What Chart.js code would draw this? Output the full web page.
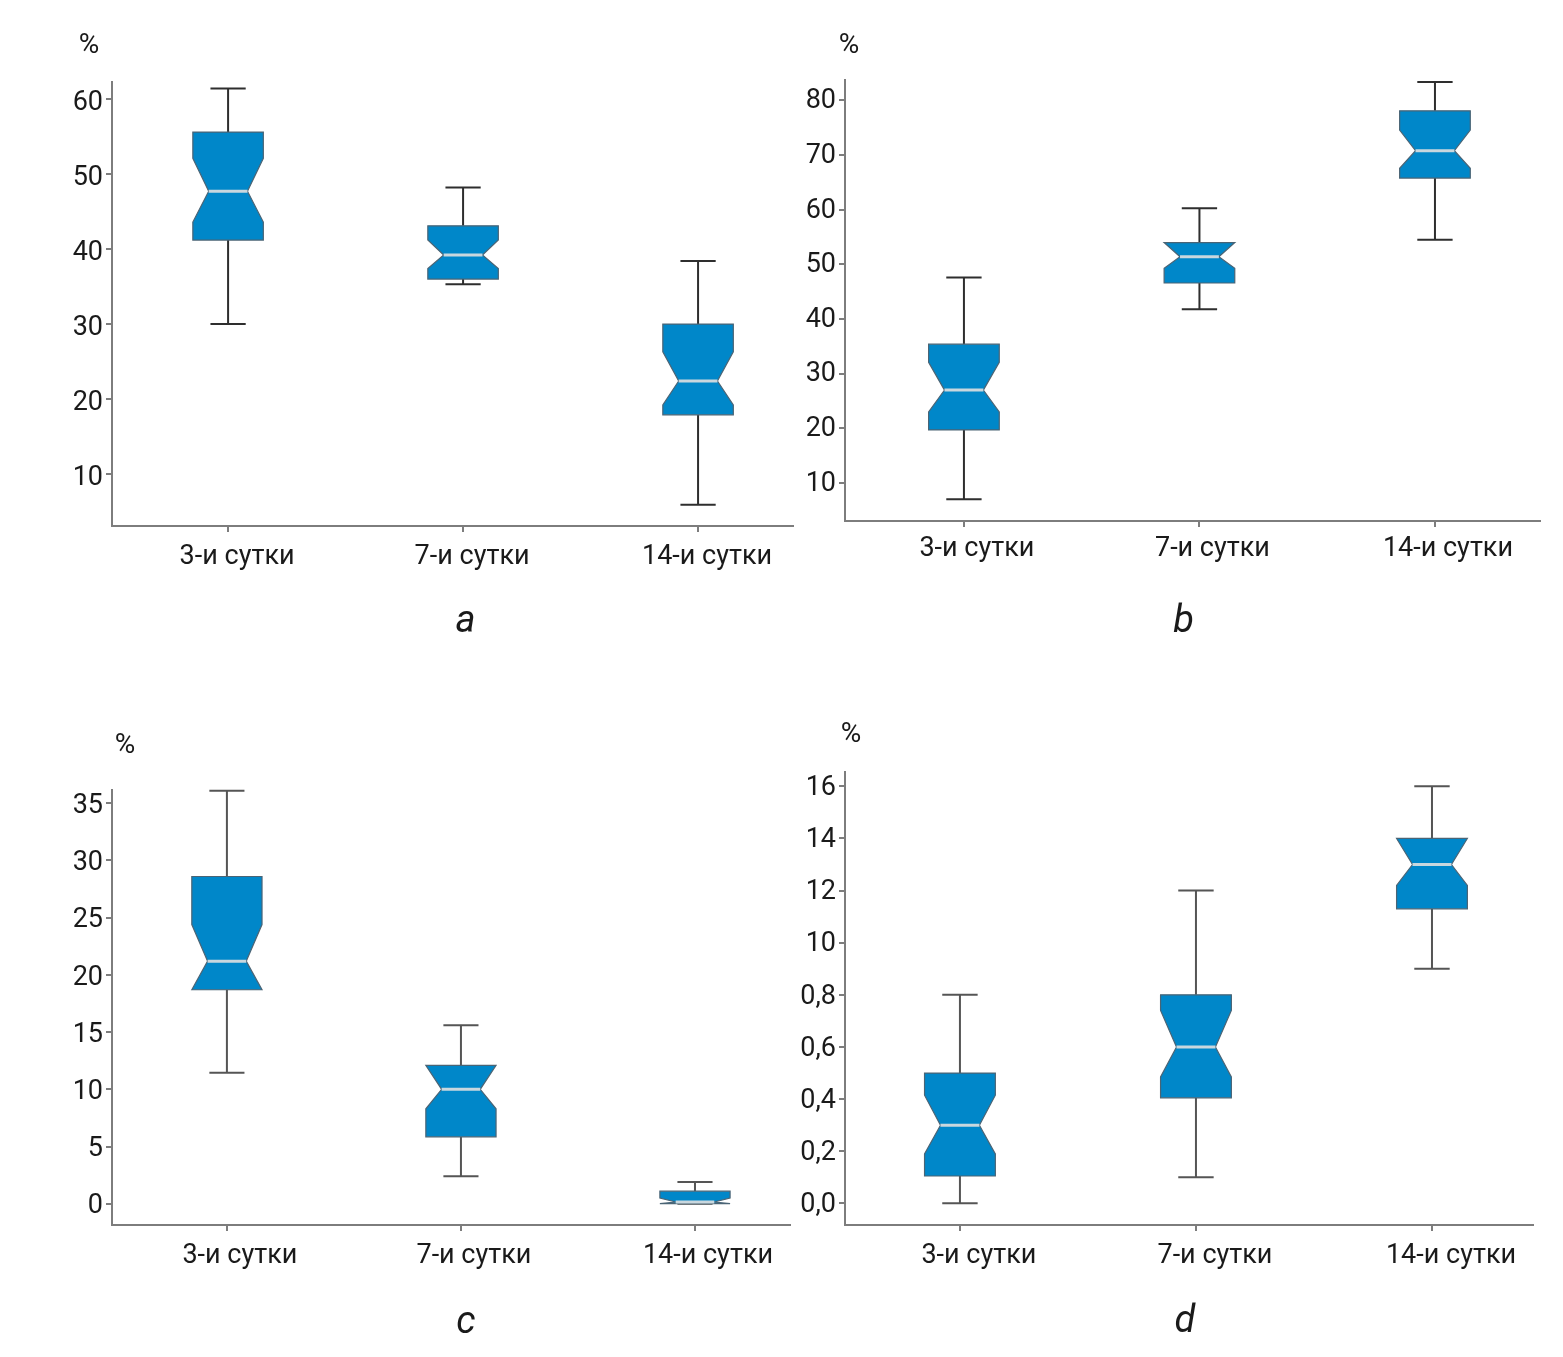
<!DOCTYPE html>
<html>
<head>
<meta charset="utf-8">
<script src="https://cdn.jsdelivr.net/npm/chart.js@4.4.1/dist/chart.umd.min.js"></script>
<style>
  body { margin: 0; background: #fff; width: 1563px; height: 1357px; position: relative; overflow: hidden; }
  .panel { position: absolute; }
</style>
</head>
<body>
<div class="panel" id="pa"><canvas id="ca"></canvas></div>
<div class="panel" id="pb"><canvas id="cb"></canvas></div>
<div class="panel" id="pc"><canvas id="cc"></canvas></div>
<div class="panel" id="pd"><canvas id="cd"></canvas></div>
<script>
// categories shared by all four panels
const categories = ["3-и сутки", "7-и сутки", "14-и сутки"];

// panel a
const aMin     = [30.0, 35.3, 5.9];
const aQ1      = [41.2, 36.0, 17.9];
const aMedian  = [47.7, 39.2, 22.4];
const aQ3      = [55.6, 43.1, 30.0];
const aMax     = [61.4, 48.2, 38.4];
const aNotchLo = [43.6, 37.4, 19.2];
const aNotchHi = [52.1, 41.2, 26.3];
const aTicks = [10, 20, 30, 40, 50, 60];
const aTickLabels = ["10", "20", "30", "40", "50", "60"];

// panel b
const bMin     = [7.0, 41.8, 54.5];
const bQ1      = [19.7, 46.6, 65.8];
const bMedian  = [27.0, 51.4, 70.8];
const bQ3      = [35.4, 54.0, 78.1];
const bMax     = [47.6, 60.3, 83.4];
const bNotchLo = [23.0, 49.3, 67.6];
const bNotchHi = [32.1, 54.0, 74.6];
const bTicks = [10, 20, 30, 40, 50, 60, 70, 80];
const bTickLabels = ["10", "20", "30", "40", "50", "60", "70", "80"];

// panel c
const cMin     = [11.45, 2.4, 0.0];
const cQ1      = [18.7, 5.85, 0.0];
const cMedian  = [21.2, 10.0, 0.15];
const cQ3      = [28.6, 12.1, 1.1];
const cMax     = [36.1, 15.6, 1.9];
const cNotchLo = [18.7, 8.3, 0.0];
const cNotchHi = [24.4, 12.1, 0.5];
const cTicks = [0, 5, 10, 15, 20, 25, 30, 35];
const cTickLabels = ["0", "5", "10", "15", "20", "25", "30", "35"];

// panel d (tick labels as printed in the source)
const dMin     = [0.0, 0.1, 0.9];
const dQ1      = [0.105, 0.405, 1.13];
const dMedian  = [0.30, 0.60, 1.30];
const dQ3      = [0.50, 0.80, 1.40];
const dMax     = [0.80, 1.20, 1.60];
const dNotchLo = [0.19, 0.485, 1.22];
const dNotchHi = [0.415, 0.74, 1.40];
const dTicks = [0, 0.2, 0.4, 0.6, 0.8, 1.0, 1.2, 1.4, 1.6];
const dTickLabels = ["0,0", "0,2", "0,4", "0,6", "0,8", "10", "12", "14", "16"];

const FONT = "Roboto, 'Noto Sans', sans-serif";
const BOX_W = 0.30;   // box width in category units
const WAIST = 0.55;   // notch waist relative to box width
const Y_AXIS_W = 110, TOP_PAD = 60, X_AXIS_H = 140, RIGHT_PAD = 30;

const notchBox = {
  id: 'notchBox',
  afterDatasetsDraw(chart, args, opts) {
    const { ctx, scales: { x, y } } = chart;
    const ds = chart.data.datasets[0];
    ds.data.forEach((p, i) => {
      const cx = x.getPixelForValue(p.x);
      const hw = (x.getPixelForValue(p.x + BOX_W / 2) - x.getPixelForValue(p.x - BOX_W / 2)) / 2;
      const wx = hw * WAIST;
      const yMin = y.getPixelForValue(ds.min[i]);
      const yMax = y.getPixelForValue(ds.max[i]);
      const yQ1 = y.getPixelForValue(ds.q1[i]);
      const yQ3 = y.getPixelForValue(ds.q3[i]);
      const yMed = y.getPixelForValue(p.y);
      const yLo = y.getPixelForValue(ds.notchLo[i]);
      const yHi = y.getPixelForValue(ds.notchHi[i]);

      ctx.save();
      // whiskers and caps
      ctx.strokeStyle = opts.whisker;
      ctx.lineWidth = 2;
      ctx.beginPath();
      ctx.moveTo(cx, yQ3); ctx.lineTo(cx, yMax);
      ctx.moveTo(cx - hw / 2, yMax); ctx.lineTo(cx + hw / 2, yMax);
      ctx.moveTo(cx, yQ1); ctx.lineTo(cx, yMin);
      ctx.moveTo(cx - hw / 2, yMin); ctx.lineTo(cx + hw / 2, yMin);
      ctx.stroke();

      // notched box
      ctx.beginPath();
      ctx.moveTo(cx - hw, yQ1);
      ctx.lineTo(cx - hw, yLo);
      ctx.lineTo(cx - wx, yMed);
      ctx.lineTo(cx - hw, yHi);
      ctx.lineTo(cx - hw, yQ3);
      ctx.lineTo(cx + hw, yQ3);
      ctx.lineTo(cx + hw, yHi);
      ctx.lineTo(cx + wx, yMed);
      ctx.lineTo(cx + hw, yLo);
      ctx.lineTo(cx + hw, yQ1);
      ctx.closePath();
      ctx.fillStyle = '#0087c9';
      ctx.fill();
      ctx.strokeStyle = '#4a6475';
      ctx.lineWidth = 1.2;
      ctx.stroke();

      // median
      ctx.strokeStyle = '#c9d7de';
      ctx.lineWidth = 3;
      ctx.beginPath();
      ctx.moveTo(cx - wx, yMed); ctx.lineTo(cx + wx, yMed);
      ctx.stroke();
      ctx.restore();
    });

    // unit label and panel letter
    const a = chart.chartArea;
    ctx.save();
    ctx.fillStyle = '#1a1a1a';
    ctx.textAlign = 'center';
    ctx.textBaseline = 'middle';
    ctx.font = "28px " + FONT;
    ctx.fillText('%', a.left + opts.pctDx, a.top + opts.pctDy);
    ctx.font = "italic 38px " + FONT;
    ctx.fillText(opts.letter, (a.left + a.right) / 2 + opts.letterDx, a.bottom + opts.letterDy);
    ctx.restore();
  }
};

function makePanel(canvasId, divId, area, xRange, yRange, stats, ticks, tickLabels, look) {
  const div = document.getElementById(divId);
  const w = (area.right - area.left) + Y_AXIS_W + RIGHT_PAD;
  const h = (area.bottom - area.top) + TOP_PAD + X_AXIS_H;
  div.style.left = (area.left - Y_AXIS_W) + 'px';
  div.style.top = (area.top - TOP_PAD) + 'px';
  const canvas = document.getElementById(canvasId);
  canvas.width = w; canvas.height = h;

  const axisGrid = { drawOnChartArea: false, drawTicks: true, tickLength: 6, color: '#7d7d7d', lineWidth: 2 };
  const axisBorder = { display: true, color: '#7d7d7d', width: 2 };

  new Chart(canvas, {
    type: 'scatter',
    data: {
      datasets: [{
        data: categories.map((c, i) => ({ x: i + 1, y: stats.median[i] })),
        min: stats.min, max: stats.max, q1: stats.q1, q3: stats.q3,
        notchLo: stats.notchLo, notchHi: stats.notchHi,
        pointRadius: 0
      }]
    },
    options: {
      responsive: false,
      animation: false,
      layout: { padding: { top: TOP_PAD, right: RIGHT_PAD, left: 0, bottom: 0 } },
      plugins: {
        legend: { display: false },
        tooltip: { enabled: false },
        notchBox: look
      },
      scales: {
        x: {
          type: 'linear', min: xRange[0], max: xRange[1],
          afterBuildTicks: s => { s.ticks = categories.map((c, i) => ({ value: i + 1 })); },
          afterFit: s => { s.height = X_AXIS_H; },
          ticks: {
            callback: (v, i) => categories[i],
            font: { family: FONT, size: 27 }, color: '#1a1a1a',
            padding: look.xPad, labelOffset: look.xShift, autoSkip: false, maxRotation: 0
          },
          grid: axisGrid,
          border: axisBorder
        },
        y: {
          min: yRange[0], max: yRange[1],
          afterBuildTicks: s => { s.ticks = ticks.map(v => ({ value: v })); },
          afterFit: s => { s.width = Y_AXIS_W; },
          ticks: {
            callback: (v, i) => tickLabels[i],
            font: { family: FONT, size: 27 }, color: '#1a1a1a',
            padding: 3, labelOffset: look.yShift
          },
          grid: axisGrid,
          border: axisBorder
        }
      }
    },
    plugins: [notchBox]
  });
}

makePanel('ca', 'pa', { left: 112, top: 82, right: 793, bottom: 526 }, [0.506, 3.404], [3.07, 62.27],
  { min: aMin, q1: aQ1, median: aMedian, q3: aQ3, max: aMax, notchLo: aNotchLo, notchHi: aNotchHi },
  aTicks, aTickLabels,
  { letter: 'a', letterDx: 13, letterDy: 96, pctDx: -23, pctDy: -36, whisker: '#2e2e2e', xPad: 9, xShift: 9, yShift: 4 });

makePanel('cb', 'pb', { left: 845, top: 80, right: 1540, bottom: 521 }, [0.495, 3.446], [3.04, 83.75],
  { min: bMin, q1: bQ1, median: bMedian, q3: bQ3, max: bMax, notchLo: bNotchLo, notchHi: bNotchHi },
  bTicks, bTickLabels,
  { letter: 'b', letterDx: -9, letterDy: 101, pctDx: 4, pctDy: -34, whisker: '#2e2e2e', xPad: 6, xShift: 13, yShift: 1 });

makePanel('cc', 'pc', { left: 112, top: 790, right: 790, bottom: 1225 }, [0.509, 3.406], [-1.86, 36.16],
  { min: cMin, q1: cQ1, median: cMedian, q3: cQ3, max: cMax, notchLo: cNotchLo, notchHi: cNotchHi },
  cTicks, cTickLabels,
  { letter: 'c', letterDx: 15, letterDy: 98, pctDx: 13, pctDy: -44, whisker: '#555555', xPad: 9, xShift: 13, yShift: 3 });

makePanel('cd', 'pd', { left: 845, top: 772, right: 1533, bottom: 1225 }, [0.513, 3.428], [-0.083, 1.655],
  { min: dMin, q1: dQ1, median: dMedian, q3: dQ3, max: dMax, notchLo: dNotchLo, notchHi: dNotchHi },
  dTicks, dTickLabels,
  { letter: 'd', letterDx: -4, letterDy: 97, pctDx: 6, pctDy: -37, whisker: '#555555', xPad: 9, xShift: 19, yShift: 2 });
</script>
</body>
</html>
